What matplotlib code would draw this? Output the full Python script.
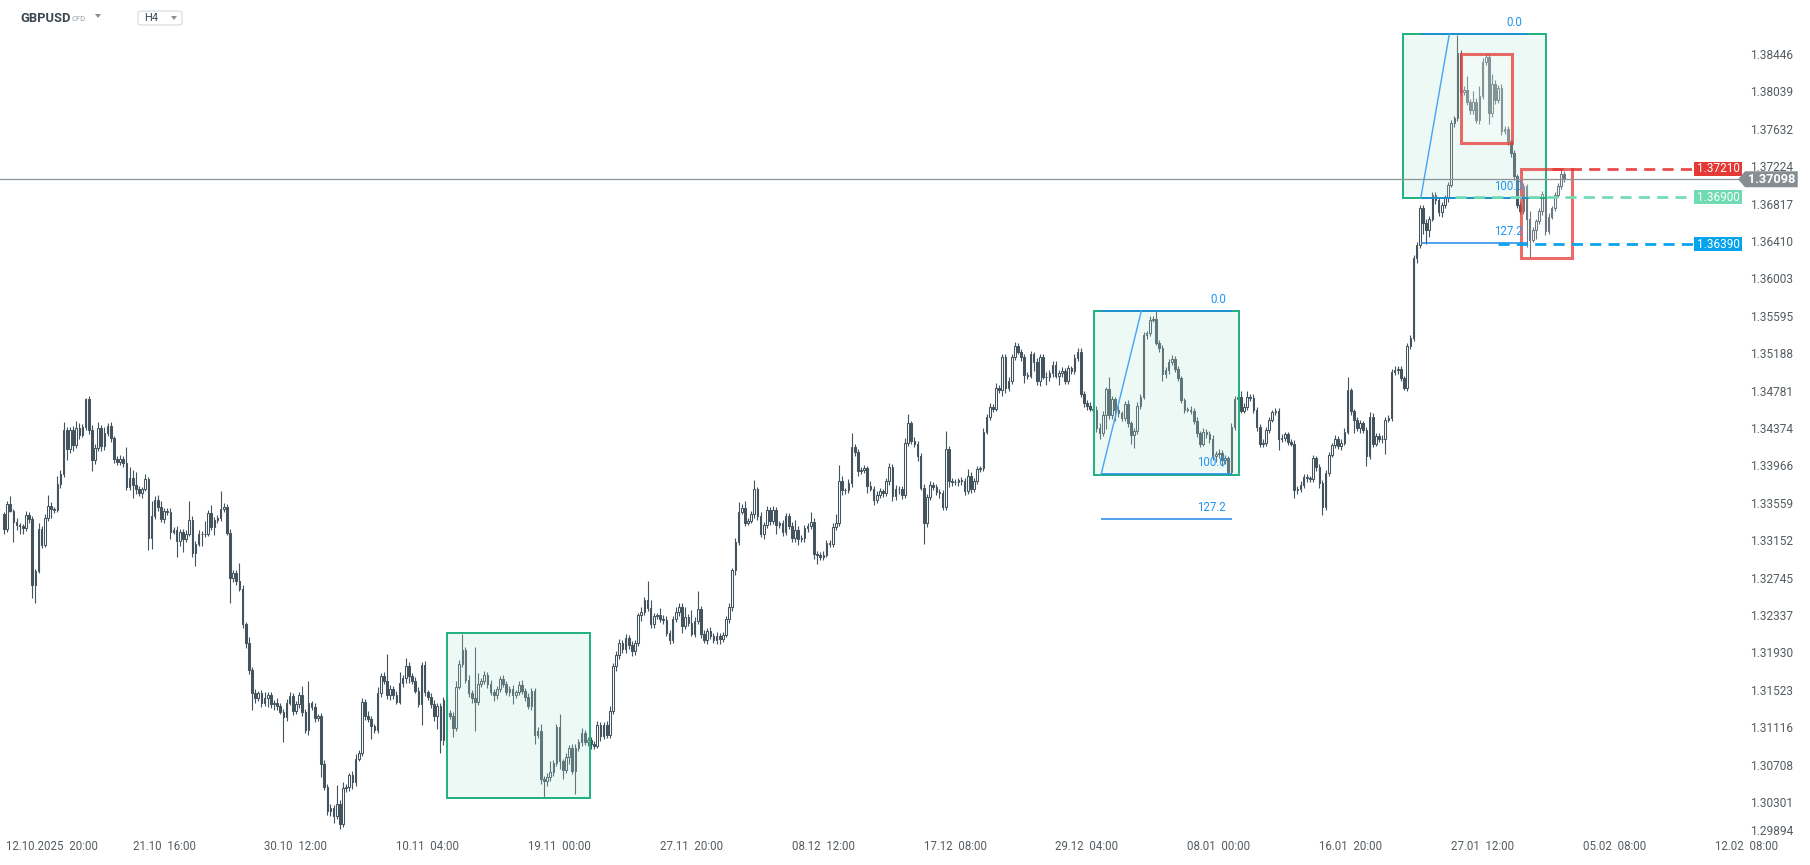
import numpy as np
import matplotlib.pyplot as plt
from matplotlib.patches import Rectangle, Polygon, FancyBboxPatch
from matplotlib.transforms import blended_transform_factory

plt.rcParams['font.family'] = ['Roboto', 'DejaVu Sans']

# GBPUSD H4, prices stored as pips above 1.3000
first_open = 345
closes = [
    329, 356, 349, 337, 333, 332, 330, 344, 340, 268, 283, 329, 312, 341, 354, 351, 350, 378, 389, 437,
    416, 437, 420, 439, 431, 440, 470, 437, 404, 417, 439, 419, 433, 441, 428, 405, 402, 405, 401, 375,
    385, 377, 372, 368, 372, 383, 319, 343, 361, 353, 340, 349, 347, 326, 328, 316, 326, 318, 324, 339,
    303, 313, 324, 323, 324, 346, 331, 339, 341, 351, 353, 325, 276, 281, 272, 264, 225, 205, 175, 150,
    145, 150, 140, 145, 148, 138, 140, 136, 130, 124, 140, 147, 131, 138, 148, 130, 110, 139, 135, 123,
    125, 73, 48, 22, 25, 16, 30, 8, 47, 48, 61, 54, 79, 85, 141, 125, 122, 114, 110, 150,
    169, 163, 148, 155, 148, 141, 161, 167, 180, 169, 164, 153, 138, 181, 151, 146, 138, 125, 136, 99,
    143, 129, 125, 112, 157, 182, 197, 165, 150, 145, 141, 160, 163, 170, 160, 152, 148, 155, 166, 160,
    151, 155, 148, 151, 159, 153, 146, 136, 153, 105, 109, 57, 55, 59, 64, 74, 113, 76, 67, 81,
    91, 65, 90, 97, 107, 97, 99, 95, 93, 116, 104, 116, 105, 131, 180, 192, 205, 198, 210, 203,
    196, 205, 235, 239, 252, 243, 225, 234, 235, 231, 230, 216, 208, 231, 239, 244, 223, 233, 227, 215,
    229, 242, 215, 208, 218, 213, 208, 212, 209, 214, 231, 244, 284, 315, 348, 352, 336, 338, 345, 372,
    343, 324, 333, 350, 338, 350, 333, 335, 326, 343, 332, 319, 328, 318, 319, 330, 332, 337, 302, 301,
    299, 301, 314, 313, 331, 335, 381, 371, 371, 379, 418, 413, 392, 393, 395, 376, 373, 361, 366, 370,
    368, 381, 397, 365, 373, 372, 366, 423, 444, 425, 422, 408, 374, 335, 364, 377, 375, 369, 368, 353,
    416, 381, 380, 380, 382, 381, 370, 387, 373, 381, 394, 395, 435, 451, 462, 460, 483, 480, 516, 483,
    490, 516, 528, 522, 516, 497, 496, 519, 511, 490, 516, 495, 494, 499, 508, 496, 499, 501, 490, 504,
    501, 515, 522, 476, 466, 463, 460, 459, 439, 433, 453, 481, 453, 470, 459, 455, 450, 465, 444, 431,
    436, 463, 473, 540, 542, 557, 558, 532, 526, 498, 502, 511, 514, 503, 493, 469, 459, 459, 457, 447,
    433, 422, 435, 432, 427, 408, 411, 412, 404, 406, 391, 440, 471, 473, 458, 462, 473, 472, 459, 440,
    422, 423, 437, 448, 456, 458, 427, 428, 432, 424, 422, 371, 373, 377, 386, 384, 383, 406, 397, 379,
    353, 390, 410, 420, 427, 419, 423, 435, 480, 457, 448, 439, 444, 437, 408, 451, 422, 430, 427, 427,
    448, 450, 500, 502, 503, 493, 483, 528, 537, 624, 638, 679, 662, 655, 667, 693, 687, 674, 682, 689,
    704, 771, 776, 847, 805, 807, 794, 785, 794, 774, 801, 838, 843, 782, 814, 796, 809, 762, 764, 751,
    738, 713, 682, 675, 702, 667, 644, 655, 664, 675, 694, 653, 669, 678, 693, 702, 716, 710,
]
upper_wick = [
    3, 4, 9, 2, 4, 3, 2, 5, 4, 3, 2, 6, 3, 4, 12, 4, 2, 9, 4, 8,
    3, 3, 4, 8, 5, 3, 2, 4, 5, 4, 6, 3, 7, 3, 4, 2, 4, 5, 3, 17,
    12, 8, 14, 4, 3, 6, 3, 17, 4, 5, 7, 3, 3, 5, 3, 4, 3, 3, 4, 21,
    4, 3, 4, 3, 14, 4, 9, 3, 3, 19, 4, 3, 4, 3, 3, 20, 4, 3, 6, 4,
    5, 3, 4, 6, 3, 4, 3, 5, 4, 3, 4, 5, 3, 4, 3, 10, 3, 24, 3, 4,
    3, 4, 4, 3, 4, 3, 20, 4, 7, 3, 2, 4, 5, 3, 4, 3, 6, 3, 3, 7,
    3, 4, 30, 4, 3, 5, 12, 3, 8, 4, 3, 4, 4, 3, 4, 3, 4, 5, 3, 4,
    3, 3, 3, 5, 7, 4, 18, 3, 5, 4, 55, 12, 4, 4, 3, 5, 3, 3, 3, 4,
    4, 3, 4, 3, 4, 6, 3, 4, 3, 3, 4, 8, 3, 4, 12, 3, 4, 14, 3, 4,
    3, 4, 5, 3, 5, 3, 4, 3, 3, 4, 3, 3, 4, 5, 3, 4, 4, 3, 5, 4,
    4, 3, 3, 5, 3, 20, 9, 3, 3, 8, 4, 4, 3, 3, 5, 4, 4, 11, 3, 14,
    4, 20, 3, 4, 3, 4, 3, 5, 4, 3, 3, 4, 3, 4, 10, 4, 7, 3, 4, 10,
    3, 4, 4, 4, 3, 4, 3, 3, 4, 3, 3, 5, 11, 4, 3, 3, 4, 10, 4, 3,
    3, 4, 3, 3, 5, 10, 18, 6, 3, 4, 16, 4, 3, 3, 4, 3, 5, 3, 4, 4,
    3, 4, 4, 3, 4, 3, 4, 5, 10, 3, 4, 3, 4, 4, 3, 4, 3, 3, 3, 3,
    20, 3, 4, 3, 3, 4, 3, 7, 4, 3, 4, 3, 4, 3, 4, 3, 5, 3, 4, 3,
    4, 3, 5, 3, 3, 4, 3, 4, 3, 4, 3, 4, 5, 3, 4, 4, 3, 4, 3, 4,
    3, 4, 4, 4, 3, 3, 4, 3, 4, 5, 4, 3, 14, 4, 3, 4, 3, 3, 4, 3,
    3, 4, 3, 3, 3, 4, 3, 9, 3, 3, 3, 3, 4, 3, 3, 3, 3, 3, 4, 4,
    4, 3, 4, 3, 4, 4, 3, 4, 3, 4, 3, 4, 3, 3, 6, 4, 6, 3, 4, 3,
    3, 4, 3, 3, 3, 3, 3, 4, 3, 3, 3, 4, 3, 4, 3, 3, 3, 4, 3, 3,
    3, 3, 3, 3, 4, 3, 4, 4, 14, 3, 3, 3, 4, 3, 3, 5, 4, 3, 3, 4,
    3, 3, 3, 4, 3, 3, 3, 4, 3, 3, 4, 3, 3, 4, 3, 3, 3, 3, 3, 4,
    3, 3, 3, 20, 4, 4, 15, 3, 12, 4, 10, 4, 4, 4, 10, 4, 3, 4, 4, 4,
    3, 4, 3, 3, 4, 3, 8, 3, 3, 4, 3, 3, 4, 3, 3, 4, 5, 3,
]
lower_wick = [
    5, 3, 2, 22, 5, 8, 6, 3, 4, 14, 20, 2, 4, 3, 3, 10, 4, 3, 4, 3,
    12, 4, 6, 3, 4, 2, 3, 5, 12, 4, 3, 5, 4, 3, 4, 4, 3, 3, 5, 4,
    4, 14, 5, 3, 5, 2, 13, 12, 3, 4, 3, 4, 3, 8, 3, 18, 5, 14, 3, 3,
    4, 14, 3, 12, 3, 3, 3, 9, 3, 3, 4, 3, 28, 5, 4, 3, 4, 6, 4, 18,
    6, 3, 5, 4, 10, 4, 6, 4, 3, 27, 4, 3, 5, 3, 4, 5, 3, 5, 3, 4,
    3, 14, 3, 4, 5, 7, 3, 6, 3, 4, 4, 8, 5, 3, 3, 4, 3, 14, 3, 3,
    4, 3, 4, 5, 4, 3, 3, 4, 6, 8, 4, 3, 3, 22, 4, 3, 4, 5, 14, 14,
    5, 4, 3, 10, 3, 2, 3, 4, 4, 5, 32, 4, 3, 3, 4, 4, 6, 4, 3, 3,
    3, 4, 10, 3, 3, 4, 4, 3, 4, 10, 4, 6, 19, 6, 4, 4, 3, 8, 10, 4,
    8, 3, 25, 3, 4, 3, 4, 6, 4, 3, 6, 4, 4, 4, 3, 6, 5, 4, 4, 5,
    5, 4, 3, 6, 4, 3, 4, 4, 3, 3, 5, 3, 4, 3, 3, 5, 7, 3, 4, 3,
    4, 3, 5, 3, 4, 4, 3, 4, 5, 3, 3, 4, 4, 5, 3, 3, 4, 3, 3, 4,
    4, 4, 6, 3, 5, 4, 10, 3, 5, 4, 3, 4, 4, 6, 3, 4, 4, 3, 6, 10,
    4, 4, 3, 4, 4, 3, 3, 5, 4, 3, 4, 4, 5, 3, 3, 8, 3, 6, 4, 3,
    4, 3, 4, 5, 4, 5, 4, 3, 4, 3, 4, 5, 3, 22, 4, 3, 4, 3, 5, 3,
    3, 6, 4, 3, 4, 4, 4, 3, 5, 4, 3, 3, 3, 3, 3, 4, 3, 3, 6, 6,
    4, 3, 3, 3, 4, 9, 4, 3, 10, 4, 5, 3, 8, 4, 4, 3, 10, 4, 3, 3,
    3, 3, 3, 3, 4, 4, 3, 5, 4, 6, 3, 15, 4, 4, 12, 4, 3, 3, 4, 10,
    14, 4, 3, 3, 4, 3, 3, 3, 4, 8, 5, 4, 3, 3, 3, 3, 4, 3, 3, 4,
    4, 4, 3, 4, 4, 4, 6, 5, 6, 4, 3, 3, 3, 3, 3, 3, 3, 4, 4, 4,
    4, 4, 4, 3, 3, 3, 12, 3, 3, 4, 3, 8, 4, 4, 3, 4, 3, 3, 5, 5,
    9, 3, 3, 3, 3, 3, 4, 3, 3, 4, 14, 3, 6, 3, 10, 3, 4, 3, 3, 4,
    16, 3, 3, 3, 4, 3, 3, 4, 3, 3, 5, 3, 12, 16, 8, 3, 4, 4, 5, 4,
    4, 3, 4, 3, 4, 3, 3, 4, 4, 3, 4, 4, 4, 12, 4, 4, 3, 4, 3, 4,
    4, 4, 4, 3, 3, 31, 19, 3, 10, 3, 4, 4, 3, 3, 3, 3, 3, 3,
]

price_ticks = [1.38446, 1.38039, 1.37632, 1.37224, 1.36817, 1.36410, 1.36003, 1.35595,
               1.35188, 1.34781, 1.34374, 1.33966, 1.33559, 1.33152, 1.32745, 1.32337,
               1.31930, 1.31523, 1.31116, 1.30708, 1.30301, 1.29894]
date_labels = ['12.10.2025  20:00', '21.10  16:00', '30.10  12:00', '10.11  04:00',
               '19.11  00:00', '27.11  20:00', '08.12  12:00', '17.12  08:00',
               '29.12  04:00', '08.01  00:00', '16.01  20:00', '27.01  12:00',
               '05.02  08:00', '12.02  08:00']
date_pos = [9, 51, 93, 135, 177, 219, 261, 303, 345, 387, 429, 471, 513, 555]

last_price = 1.37098
level_red, level_green, level_blue = 1.37210, 1.36900, 1.36390

base, pip = 1.3, 0.0001
close = base + np.array(closes) * pip
opens = np.concatenate([[base + first_open * pip], close[:-1]])
high = np.maximum(opens, close) + np.array(upper_wick) * pip
low = np.minimum(opens, close) - np.array(lower_wick) * pip
idx = np.arange(len(close))

W, H = 1810, 865
fig = plt.figure(figsize=(W / 100, H / 100), dpi=100)
ax = fig.add_axes([0, 27 / H, 1740 / W, 838 / H])
ax.set_xlim(-1.27, 553.0)
ax.set_ylim(base - 7.5 * pip, base + 905 * pip)
ax.axis('off')

dark = '#44545f'
up = close >= opens
ax.vlines(idx, low, high, color=dark, lw=0.8, zorder=2)
body = np.maximum(np.abs(close - opens), 0.5 * pip)
ax.bar(idx, body, bottom=np.minimum(opens, close), width=0.52,
       color=np.where(up, 'white', dark), edgecolor=dark, linewidth=0.75, zorder=3)

# green zones
for x0, x1, y0, y1 in [(141.0, 186.7, 1.30357, 1.32154),
                       (347.3, 393.5, 1.33881, 1.35660),
                       (445.5, 491.2, 1.36891, 1.38677)]:
    ax.add_patch(Rectangle((x0, y0), x1 - x0, y1 - y0, facecolor='#b5e8d5',
                           alpha=0.24, edgecolor='none', zorder=4))
    ax.add_patch(Rectangle((x0, y0), x1 - x0, y1 - y0, facecolor='none',
                           edgecolor='#1fb07c', lw=1.4, zorder=5))

# red zones
for x0, x1, y0, y1 in [(464.2, 480.3, 1.37490, 1.38459),
                       (483.3, 499.4, 1.36238, 1.37210)]:
    ax.add_patch(Rectangle((x0, y0), x1 - x0, y1 - y0, facecolor='white',
                           alpha=0.22, edgecolor='none', zorder=4))
    ax.add_patch(Rectangle((x0, y0), x1 - x0, y1 - y0, facecolor='none',
                           edgecolor='#e53935', alpha=0.75, lw=2.2, zorder=5))

# fibonacci
fib_blue = '#1e88e5'
for xs, xe, lv0, lv100, diag_end in [(349.5, 391.1, 1.35664, 1.33886, 362.3),
                                     (451.3, 485.5, 1.38677, 1.36891, 460.4)]:
    rng = lv0 - lv100
    for name, lv in [('0.0', lv0), ('100.0', lv100), ('127.2', lv100 - 0.272 * rng)]:
        ax.hlines(lv, xs, xe, color=fib_blue, lw=1.1, zorder=6)
        ax.text(xe - 1.8, lv + 5.5 * pip, name, color='#2196f3', fontsize=8.3,
                ha='right', va='bottom', zorder=7)
    ax.plot([xs, diag_end], [lv100, lv0], color='#42a5f5', lw=1.0, zorder=6)

# price line and level lines
ax.axhline(last_price, color='#8a9399', lw=0.9, zorder=6)
dash = dict(lw=2.0, linestyle=(0, (4, 2.6)), zorder=6, clip_on=False)
ax.plot([493.1, 538.0], [level_red] * 2, color='#e53935', alpha=0.9, **dash)
ax.plot([462.2, 538.0], [level_green] * 2, color='#74dcb6', **dash)
ax.plot([476.0, 538.0], [level_blue] * 2, color='#0aa4ee', **dash)

tag_h = 15.2 * pip
for lv, col in [(level_red, '#e53935'), (level_green, '#6fdbb3'), (level_blue, '#04a3ee')]:
    ax.add_patch(Rectangle((538.4, lv - tag_h / 2), 15.3, tag_h, facecolor=col,
                           edgecolor='none', zorder=8, clip_on=False))
    ax.text(546.05, lv, f'{lv:.5f}', color='white', fontsize=8.5,
            ha='center', va='center', zorder=9, clip_on=False)

ph = 8.7 * pip
ax.add_patch(Polygon([(552.4, last_price), (554.6, last_price + ph), (571.4, last_price + ph),
                      (571.4, last_price - ph), (554.6, last_price - ph)],
                     closed=True, facecolor='#868e92', edgecolor='none', zorder=8, clip_on=False))
ax.text(563.0, last_price, f'{last_price:.5f}', color='white', fontsize=9.2,
        fontweight='bold', ha='center', va='center', zorder=9, clip_on=False)

# axis labels
ytr = blended_transform_factory(fig.transFigure, ax.transData)
ybot = ax.get_ylim()[0]
for p in price_ticks:
    if p < ybot + 3 * pip:
        ax.text(1750 / W, ybot, f'{p:.5f}', transform=ytr, fontsize=8.6, color='#555c60',
                ha='left', va='bottom', zorder=6, clip_on=False)
    else:
        ax.text(1750 / W, p, f'{p:.5f}', transform=ytr, fontsize=8.6, color='#555c60',
                ha='left', va='center', zorder=6, clip_on=False)

xtr = blended_transform_factory(ax.transData, fig.transFigure)
for k, (lab, pos) in enumerate(zip(date_labels, date_pos)):
    if k == 0:
        fig.text(6 / W, 1 - 846 / H, lab, fontsize=8.3, color='#555c60', ha='left', va='center')
    else:
        ax.text(pos, 1 - 846 / H, lab, transform=xtr, fontsize=8.3, color='#555c60',
                ha='center', va='center', clip_on=False)

# header
fig.text(20 / W, 1 - 18 / H, 'GBPUSD', fontsize=9.3, fontweight='bold', color='#3a4750',
         ha='left', va='center')
fig.text(72 / W, 1 - 19 / H, 'CFD', fontsize=5.5, color='#9aa0a6', ha='left', va='center')
fig.patches.append(Polygon([(95 / W, 1 - 14 / H), (101 / W, 1 - 14 / H), (98 / W, 1 - 18 / H)],
                           closed=True, transform=fig.transFigure, facecolor='#8a9095',
                           edgecolor='none'))
fig.patches.append(FancyBboxPatch((138 / W, 1 - 25 / H), 44 / W, 14 / H,
                                  boxstyle='round,pad=0,rounding_size=0.002',
                                  transform=fig.transFigure, facecolor='white',
                                  edgecolor='#d5d9dc', lw=0.8))
fig.text(144 / W, 1 - 18 / H, 'H4', fontsize=8, color='#3a4750', ha='left', va='center')
fig.patches.append(Polygon([(171 / W, 1 - 16 / H), (177 / W, 1 - 16 / H), (174 / W, 1 - 20 / H)],
                           closed=True, transform=fig.transFigure, facecolor='#8a9095',
                           edgecolor='none'))

fig.savefig('out.png', dpi=100, facecolor='white')
